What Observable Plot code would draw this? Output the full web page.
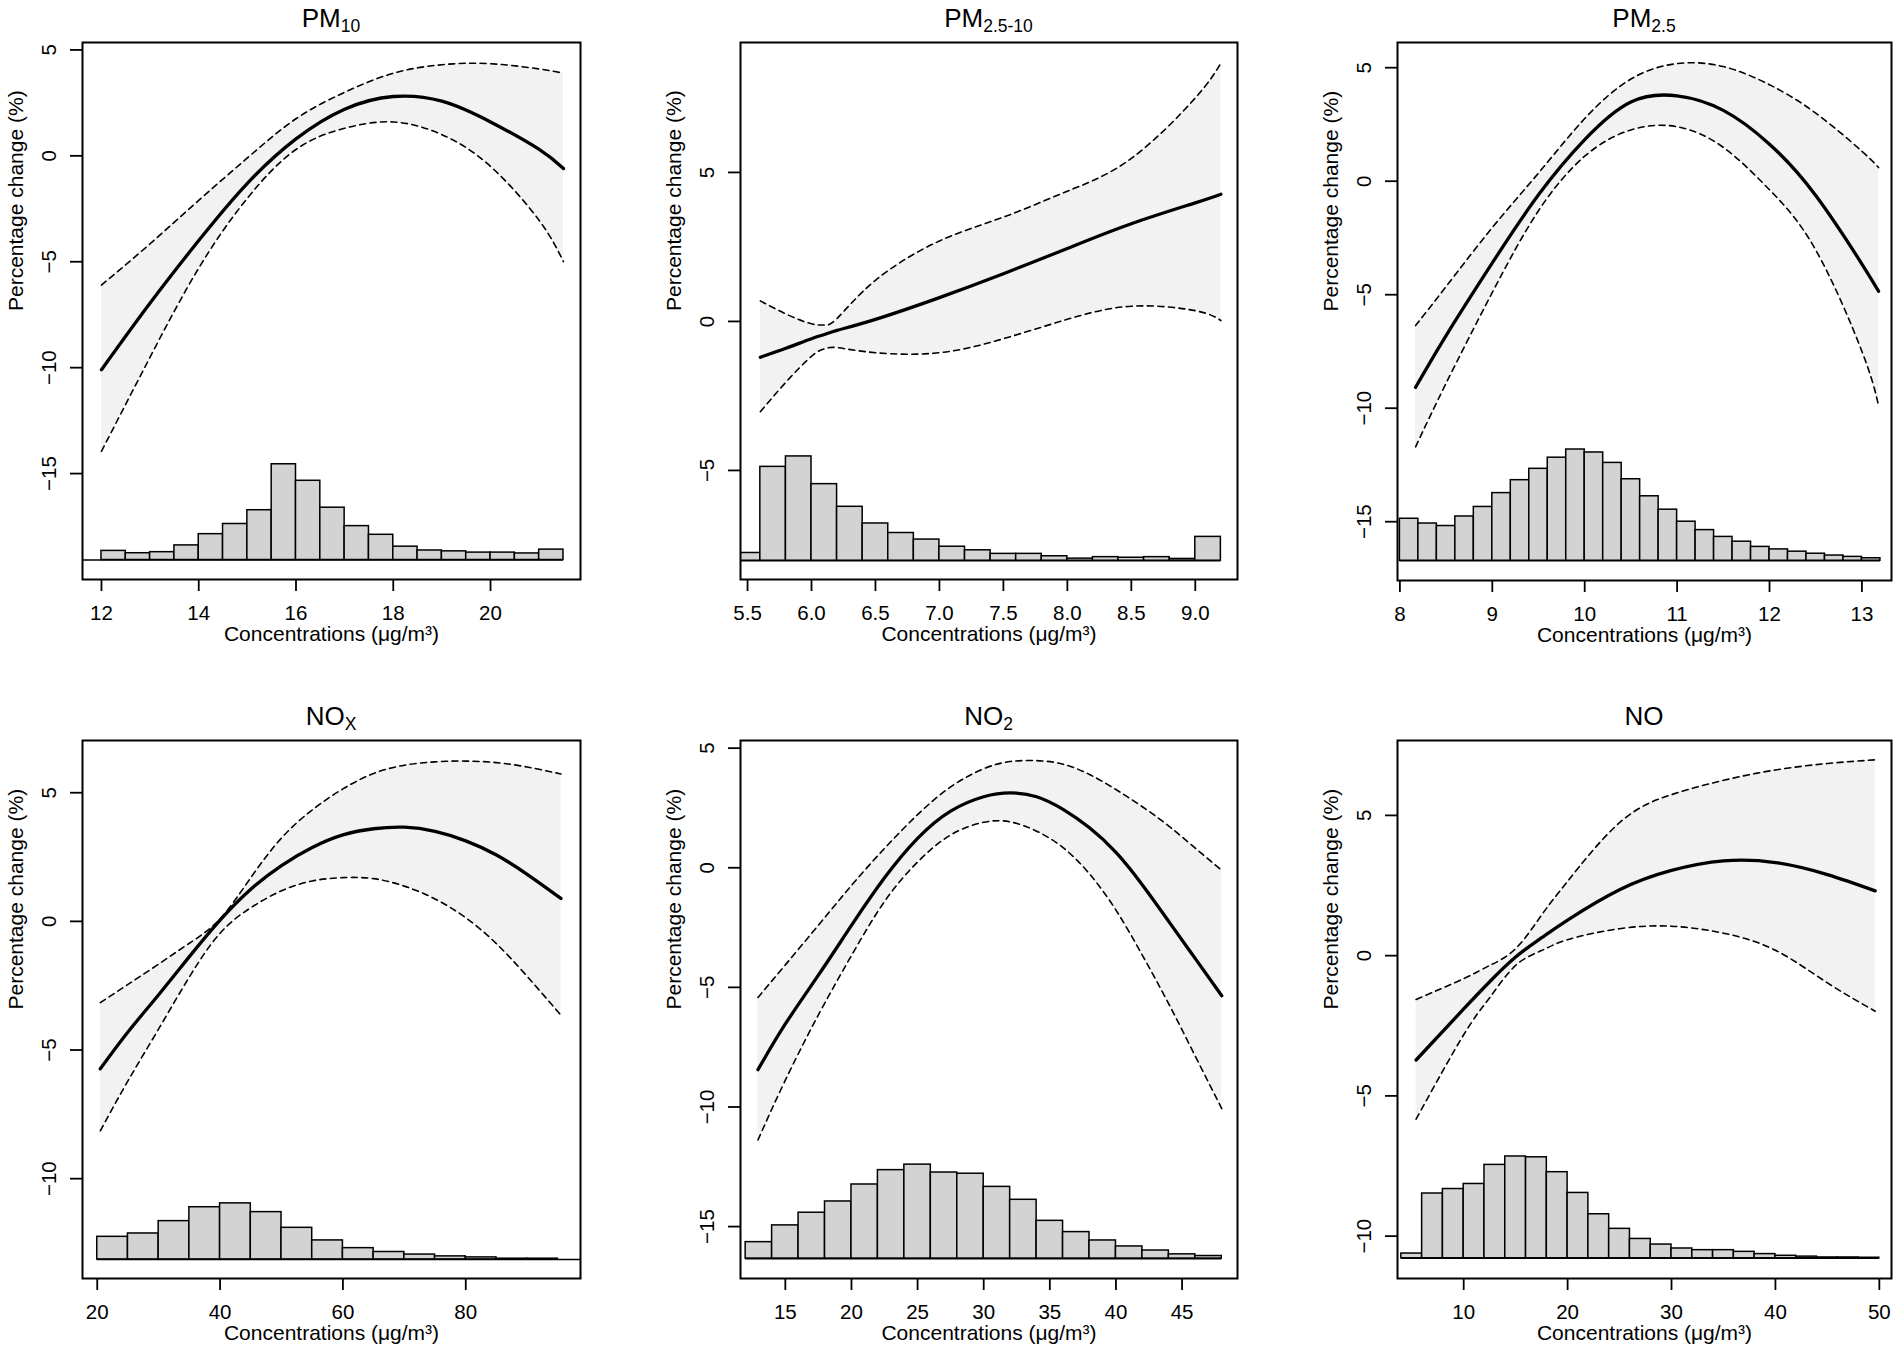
<!DOCTYPE html>
<html>
<head>
<meta charset="utf-8">
<script src="https://cdn.jsdelivr.net/npm/d3@7"></script>
<script src="https://cdn.jsdelivr.net/npm/@observablehq/plot@0.6"></script>
<style>
  body { margin: 0; background: #fff; }
  #fig { position: relative; width: 1902px; height: 1358px; background: #fff;
         font-family: "Liberation Sans", Arial, Helvetica, sans-serif; color: #000; }
  .title { position: absolute; text-align: center; font-size: 26px; line-height: 26px; height: 26px; white-space: nowrap; }
  .title sub { font-size: 17.5px; vertical-align: baseline; position: relative; top: 5px; line-height: 0; }
  .panel { position: absolute; }
</style>
</head>
<body>
<div id="fig"></div>
<script>
// ---------- PM10 ----------
const pm10X   = [12, 13, 14, 15, 16, 17, 18, 19, 20, 21, 21.5];
const pm10Fit = [-10.1, -6.95, -4.0, -1.3, 0.8, 2.2, 2.8, 2.58, 1.6, 0.3, -0.6];
const pm10Lo  = [-13.95, -9.5, -5.3, -2.0, 0.3, 1.3, 1.6, 1.0, -0.5, -3.05, -5.0];
const pm10Hi  = [-6.1, -4.15, -2.1, -0.1, 1.75, 3.0, 3.9, 4.3, 4.35, 4.1, 3.9];
const pm10BinStart = 11.5, pm10BinWidth = 0.5, pm10Base = -19.08;
const pm10Hist = [0, 0.43, 0.32, 0.37, 0.69, 1.22, 1.70, 2.35, 4.52, 3.74, 2.47, 1.60, 1.19, 0.63, 0.45, 0.41, 0.35, 0.35, 0.31, 0.49];
const pm10XTicks = [12, 14, 16, 18, 20];
const pm10YTicks = [-15, -10, -5, 0, 5];

// ---------- PM2.5-10 ----------
const pmcX   = [5.6, 5.8, 6.0, 6.1, 6.2, 6.5, 7.0, 7.5, 8.0, 8.5, 9.0, 9.2];
const pmcFit = [-1.2, -0.9, -0.58, -0.44, -0.3, 0.07, 0.8, 1.6, 2.45, 3.28, 3.98, 4.27];
const pmcLo  = [-3.03, -2.04, -1.17, -0.92, -0.88, -1.05, -1.05, -0.58, 0.07, 0.51, 0.36, 0.03];
const pmcHi  = [0.69, 0.25, -0.08, -0.12, 0.1, 1.38, 2.7, 3.5, 4.37, 5.47, 7.5, 8.67];
const pmcBinStart = 5.4, pmcBinWidth = 0.2, pmcBase = -8.03;
const pmcHist = [0.26, 3.15, 3.5, 2.57, 1.81, 1.25, 0.93, 0.71, 0.47, 0.35, 0.23, 0.23, 0.15, 0.07, 0.12, 0.10, 0.12, 0.06, 0.80];
const pmcXTicks = [5.5, 6.0, 6.5, 7.0, 7.5, 8.0, 8.5, 9.0];
const pmcYTicks = [-5, 0, 5];

// ---------- PM2.5 ----------
const pm25X   = [8.17, 8.5, 9.0, 9.5, 10.0, 10.5, 11.0, 11.5, 12.0, 12.5, 13.0, 13.18];
const pm25Fit = [-9.08, -6.8, -3.6, -0.6, 1.83, 3.49, 3.76, 3.12, 1.63, -0.63, -3.65, -4.85];
const pm25Lo  = [-11.7, -8.9, -4.9, -1.3, 1.1, 2.26, 2.4, 1.49, -0.38, -3.03, -7.5, -9.89];
const pm25Hi  = [-6.36, -4.64, -2.04, 0.36, 2.76, 4.5, 5.18, 5.05, 4.25, 3.0, 1.32, 0.6];
const pm25BinStart = 8.0, pm25BinWidth = 0.2, pm25Base = -16.72;
const pm25Hist = [1.85, 1.64, 1.53, 1.95, 2.37, 2.98, 3.55, 4.05, 4.54, 4.9, 4.77, 4.31, 3.59, 2.84, 2.25, 1.72, 1.35, 1.05, 0.84, 0.61, 0.5, 0.4, 0.31, 0.23, 0.17, 0.11];
const pm25XTicks = [8, 9, 10, 11, 12, 13];
const pm25YTicks = [-15, -10, -5, 0, 5];

// ---------- NOx ----------
const noxX   = [20.5, 25, 30, 35, 40, 45, 50, 55, 60, 65, 70, 75, 80, 85, 90, 95.5];
const noxFit = [-5.73, -4.3, -2.85, -1.37, 0.05, 1.25, 2.17, 2.87, 3.36, 3.6, 3.66, 3.5, 3.13, 2.58, 1.83, 0.89];
const noxLo  = [-8.14, -6.2, -4.18, -2.16, -0.46, 0.53, 1.19, 1.57, 1.7, 1.66, 1.37, 0.87, 0.14, -0.87, -2.14, -3.65];
const noxHi  = [-3.16, -2.45, -1.66, -0.85, 0.1, 1.7, 3.24, 4.33, 5.15, 5.75, 6.07, 6.2, 6.23, 6.17, 6.0, 5.73];
const noxBinStart = 20, noxBinWidth = 5, noxBase = -13.14;
const noxHist = [0.88, 1.01, 1.49, 2.03, 2.18, 1.84, 1.23, 0.74, 0.44, 0.29, 0.19, 0.12, 0.08, 0.03, 0.03, 0];
const noxXTicks = [20, 40, 60, 80];
const noxYTicks = [-10, -5, 0, 5];

// ---------- NO2 ----------
const no2X   = [12.93, 15, 17.5, 20, 22.5, 25, 27.5, 30, 32, 34, 36, 38, 40, 42, 44, 46, 48];
const no2Fit = [-8.44, -6.53, -4.49, -2.41, -0.42, 1.23, 2.37, 2.97, 3.13, 2.97, 2.44, 1.67, 0.64, -0.72, -2.25, -3.8, -5.35];
const no2Lo  = [-11.38, -8.88, -6.15, -3.67, -1.41, 0.24, 1.37, 1.9, 1.92, 1.53, 0.84, -0.26, -1.77, -3.66, -5.7, -7.88, -10.07];
const no2Hi  = [-5.42, -4.06, -2.4, -0.74, 0.81, 2.22, 3.38, 4.14, 4.44, 4.48, 4.33, 3.9, 3.27, 2.55, 1.74, 0.82, -0.11];
const no2BinStart = 12, no2BinWidth = 2, no2Base = -16.34;
const no2Hist = [0.69, 1.39, 1.92, 2.39, 3.1, 3.7, 3.93, 3.6, 3.55, 3.0, 2.46, 1.58, 1.11, 0.76, 0.51, 0.34, 0.18, 0.11];
const no2XTicks = [15, 20, 25, 30, 35, 40, 45];
const no2YTicks = [-15, -10, -5, 0, 5];

// ---------- NO ----------
const noX   = [5.42, 10, 12.5, 15, 17.5, 20, 25, 30, 35, 40, 45, 49.6];
const noFit = [-3.72, -1.9, -0.93, -0.05, 0.64, 1.27, 2.35, 3.04, 3.38, 3.32, 2.89, 2.31];
const noLo  = [-5.83, -2.82, -1.5, -0.35, 0.18, 0.57, 0.96, 1.05, 0.8, 0.19, -0.97, -1.98];
const noHi  = [-1.56, -0.82, -0.35, 0.25, 1.45, 2.65, 4.74, 5.74, 6.25, 6.62, 6.85, 6.98];
const noBinStart = 4, noBinWidth = 2, noBase = -10.79;
const noHist = [0.17, 2.31, 2.47, 2.65, 3.33, 3.63, 3.6, 3.07, 2.33, 1.57, 1.05, 0.69, 0.49, 0.35, 0.29, 0.29, 0.23, 0.15, 0.09, 0.06, 0.03, 0.03, 0.02];
const noXTicks = [10, 20, 30, 40, 50];
const noYTicks = [-10, -5, 0, 5];

const xLabel = "Concentrations (μg/m³)";
const yLabel = "Percentage change (%)";

const fmtInt = d3.format("d");
const fmt1 = d3.format(".1f");

const panels = [
  {title: "PM<sub>10</sub>", x: pm10X, fit: pm10Fit, lo: pm10Lo, hi: pm10Hi, binStart: pm10BinStart, binWidth: pm10BinWidth, base: pm10Base, hist: pm10Hist, xt: pm10XTicks, yt: pm10YTicks, fmt: fmtInt,
   xd: [11.61, 21.85], yd: [-20.0, 5.35], left: 82, top: 42, w: 498, h: 537},
  {title: "PM<sub>2.5-10</sub>", x: pmcX, fit: pmcFit, lo: pmcLo, hi: pmcHi, binStart: pmcBinStart, binWidth: pmcBinWidth, base: pmcBase, hist: pmcHist, xt: pmcXTicks, yt: pmcYTicks, fmt: fmt1,
   xd: [5.445, 9.33], yd: [-8.66, 9.36], left: 740, top: 42, w: 497, h: 537},
  {title: "PM<sub>2.5</sub>", x: pm25X, fit: pm25Fit, lo: pm25Lo, hi: pm25Hi, binStart: pm25BinStart, binWidth: pm25BinWidth, base: pm25Base, hist: pm25Hist, xt: pm25XTicks, yt: pm25YTicks, fmt: fmtInt,
   xd: [7.974, 13.32], yd: [-17.59, 6.11], left: 1397, top: 42, w: 494, h: 538},
  {title: "NO<sub>X</sub>", x: noxX, fit: noxFit, lo: noxLo, hi: noxHi, binStart: noxBinStart, binWidth: noxBinWidth, base: noxBase, hist: noxHist, xt: noxXTicks, yt: noxYTicks, fmt: fmtInt,
   xd: [17.6, 98.68], yd: [-13.88, 7.03], left: 82, top: 740, w: 498, h: 538},
  {title: "NO<sub>2</sub>", x: no2X, fit: no2Fit, lo: no2Lo, hi: no2Hi, binStart: no2BinStart, binWidth: no2BinWidth, base: no2Base, hist: no2Hist, xt: no2XTicks, yt: no2YTicks, fmt: fmtInt,
   xd: [11.61, 49.19], yd: [-17.17, 5.32], left: 740, top: 740, w: 497, h: 538},
  {title: "NO", x: noX, fit: noFit, lo: noLo, hi: noHi, binStart: noBinStart, binWidth: noBinWidth, base: noBase, hist: noHist, xt: noXTicks, yt: noYTicks, fmt: fmtInt,
   xd: [3.63, 51.17], yd: [-11.51, 7.67], left: 1397, top: 740, w: 494, h: 538}
];

const fig = document.getElementById("fig");
const ML = 82, MR = 10, MT = 4, MB = 80;

for (const p of panels) {
  const curveData = p.x.map((x, i) => ({x, fit: p.fit[i], lo: p.lo[i], hi: p.hi[i]}));
  const bins = p.hist.map((h, i) => ({
    x1: p.binStart + i * p.binWidth,
    x2: p.binStart + (i + 1) * p.binWidth,
    y1: p.base,
    y2: p.base + h
  }));
  const baseLine = [{y: p.base, x1: p.binStart, x2: p.binStart + p.hist.length * p.binWidth}];

  const chart = Plot.plot({
    width: ML + p.w + MR,
    height: MT + p.h + MB,
    marginLeft: ML, marginRight: MR, marginTop: MT, marginBottom: MB,
    x: {domain: p.xd},
    y: {domain: p.yd},
    style: {fontFamily: "'Liberation Sans', Arial, Helvetica, sans-serif", color: "#000", background: "transparent", overflow: "visible"},
    marks: [
      Plot.areaY(curveData, {x: "x", y1: "lo", y2: "hi", fill: "#f2f2f2", curve: "natural"}),
      Plot.rect(bins, {x1: "x1", x2: "x2", y1: "y1", y2: "y2", fill: "#d3d3d3", stroke: "#000", strokeWidth: 1.5, clip: true}),
      Plot.ruleY(baseLine, {y: "y", x1: "x1", x2: "x2", stroke: "#000", strokeWidth: 1.6, clip: true}),
      Plot.line(curveData, {x: "x", y: "lo", stroke: "#000", strokeWidth: 1.6, strokeDasharray: "6,4.5", curve: "natural"}),
      Plot.line(curveData, {x: "x", y: "hi", stroke: "#000", strokeWidth: 1.6, strokeDasharray: "6,4.5", curve: "natural"}),
      Plot.line(curveData, {x: "x", y: "fit", stroke: "#000", strokeWidth: 3.3, curve: "natural"}),
      Plot.frame({stroke: "#000", strokeWidth: 2}),
      Plot.axisX(p.xt, {tickSize: 12, tickPadding: 14, fontSize: 20.5, tickFormat: p.fmt, label: null, strokeWidth: 1.8}),
      Plot.axisY(p.yt, {tickSize: 12, tickPadding: 15, tickRotate: -90, fontSize: 20.5, tickFormat: fmtInt, label: null, strokeWidth: 1.8}),
      Plot.text([xLabel], {text: d => d, frameAnchor: "bottom", dy: 61, fontSize: 21}),
      Plot.text([yLabel], {text: d => d, frameAnchor: "left", dx: -66, rotate: -90, fontSize: 21})
    ]
  });

  const wrap = document.createElement("div");
  wrap.className = "panel";
  wrap.style.left = (p.left - ML) + "px";
  wrap.style.top = (p.top - MT) + "px";
  wrap.appendChild(chart);
  fig.appendChild(wrap);

  const t = document.createElement("div");
  t.className = "title";
  t.style.left = p.left + "px";
  t.style.width = p.w + "px";
  t.style.top = (p.top - 37) + "px";
  t.innerHTML = p.title;
  fig.appendChild(t);
}
</script>
</body>
</html>
